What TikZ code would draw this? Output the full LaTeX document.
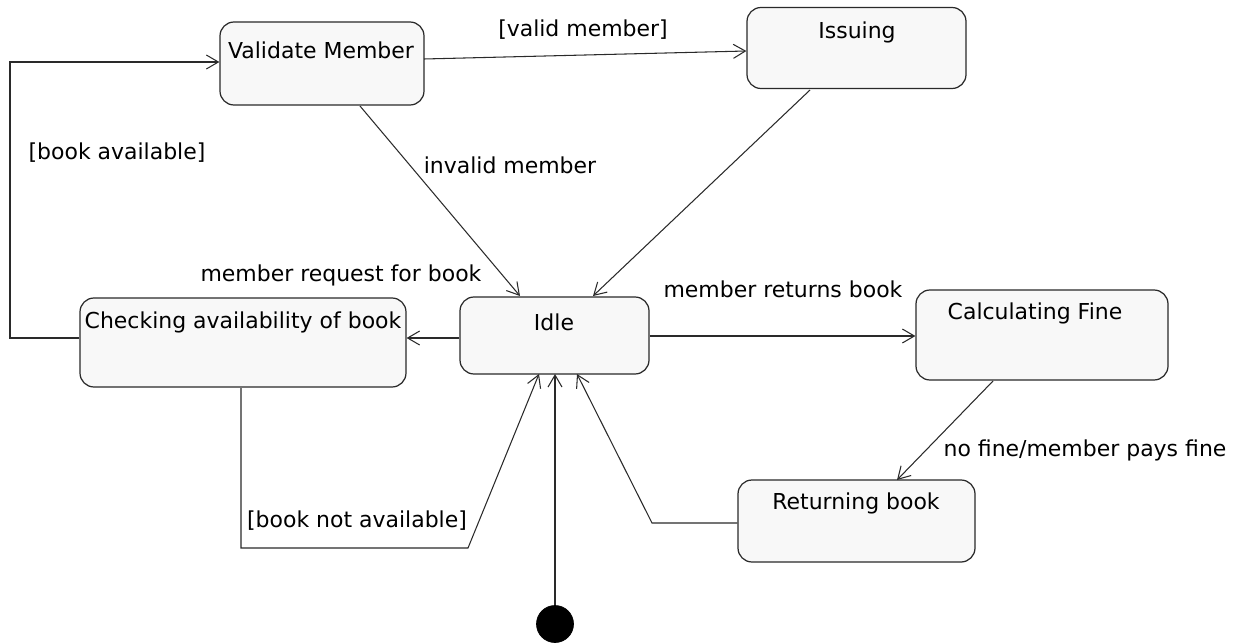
\documentclass[tikz,border=0pt]{standalone}
\usepackage{fontspec}
\setmainfont{DejaVu Sans}
\usetikzlibrary{arrows.meta}
\definecolor{statefill}{HTML}{F8F8F8}
\definecolor{ink}{HTML}{2A2A2A}
\tikzset{
  state/.style={draw=ink, fill=statefill, line width=0.7pt, rounded corners=0.28cm, inner sep=0pt},
  stxt/.style={font=\fontsize{12.5}{14}\selectfont, inner sep=0pt, anchor=center},
  lbl/.style={font=\fontsize{12.5}{14}\selectfont, inner sep=0pt, anchor=center},
  tr/.style={draw=ink, line width=0.6pt, -{Straight Barb[length=2.4mm,width=2.8mm]}},
}
\begin{document}
\begin{tikzpicture}[x=0.02cm, y=-0.02cm]
\useasboundingbox (0,0) rectangle (1233,642);

% states (px corners)
\node[state, minimum width=204*0.02cm, minimum height=83*0.02cm] (vm) at (322,63.5) {};
\node[stxt] (vmt) at (321,50) {Validate Member};
\node[state, minimum width=219*0.02cm, minimum height=81*0.02cm] (iss) at (856.5,48) {};
\node[stxt] (isst) at (857,32) {Issuing};
\node[state, minimum width=189*0.02cm, minimum height=77*0.02cm] (idle) at (554.5,335.5) {};
\node[stxt] (idlet) at (554,322) {Idle};
\node[state, minimum width=326*0.02cm, minimum height=89*0.02cm] (chk) at (243,342.5) {};
\node[stxt] (chkt) at (243,322) {Checking availability of book};
\node[state, minimum width=252*0.02cm, minimum height=90*0.02cm] (calc) at (1042,335) {};
\node[stxt] (calct) at (1035,313) {Calculating Fine};
\node[state, minimum width=237*0.02cm, minimum height=82*0.02cm] (ret) at (856.5,521) {};
\node[stxt] (rett) at (856,503) {Returning book};

% initial pseudo-state
\node[circle, fill=black, draw=black, minimum size=37*0.02cm, inner sep=0pt] (init) at (555,624) {};

% connector anchors
\coordinate (c1) at (10,338);
\coordinate (c2) at (10,62);
\coordinate (c3) at (241,548);
\coordinate (c4) at (468,548);
\coordinate (c5) at (652,523);

% transitions
\draw[tr] (chk.west |- 0,338) -- (c1) -- (c2) -- (vm.west |- 0,62);
\draw[tr] (424,59) -- (iss.west |- 0,51);
\draw[tr] (360,106) -- (520,296);
\draw[tr] (810,90) -- (593,296);
\draw[tr] (idle.west |- 0,338) -- (chk.east |- 0,338);
\draw[tr] (idle.east |- 0,336) -- (calc.west |- 0,336);
\draw[tr] (993,381) -- (897,480);
\draw[tr] (ret.west |- 0,523) -- (c5) -- (577,374);
\draw[tr] (241,388) -- (c3) -- (c4) -- (539,374);
\draw[tr] (init.north) -- (555,374);

% labels
\node[lbl] (l1) at (117,153) {[book available]};
\node[lbl] (l2) at (583,30) {[valid member]};
\node[lbl] (l3) at (510,165) {invalid member};
\node[lbl] (l4) at (341,275) {member request for book};
\node[lbl] (l5) at (783,289) {member returns book};
\node[lbl] (l6) at (1085,450) {no fine/member pays fine};
\node[lbl] (l7) at (357,521) {[book not available]};
\end{tikzpicture}
\end{document}
